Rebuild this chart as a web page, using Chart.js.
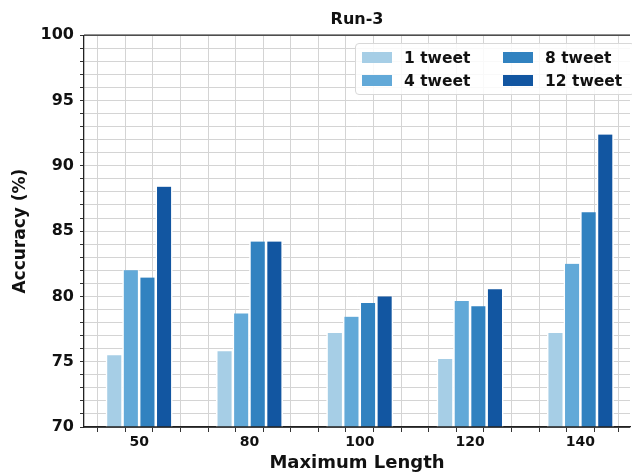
<!DOCTYPE html>
<html>
<head>
<meta charset="utf-8">
<script src="https://cdn.jsdelivr.net/npm/chart.js@4.4.1/dist/chart.umd.min.js"></script>
<style>
  html, body { margin: 0; padding: 0; background: #fff; }
  #wrap { position: relative; width: 632px; height: 474px; overflow: hidden; }
  #legend {
    position: absolute; left: 355px; top: 43px; width: 280px;
    box-sizing: border-box; padding: 2px 0 2px 6px;
    border: 1px solid #d8d8d8; border-radius: 4px;
    background: rgba(255, 255, 255, 0.85);
    display: grid; grid-template-columns: 141px auto; grid-template-rows: 23px 23px;
    grid-auto-flow: column;
    font-family: "DejaVu Sans", sans-serif; font-weight: bold; font-size: 15.5px; color: #111;
  }
  #legend .item { display: flex; align-items: center; }
  #legend .sw { width: 30px; height: 11px; margin-right: 12px; }
</style>
</head>
<body>
<div id="wrap">
  <canvas id="chart" width="632" height="474"></canvas>
  <div id="legend"></div>
</div>
<script>
// x categories (maximum length) and accuracy per tweet count
const lengths = ["50", "80", "100", "120", "140"];
const seriesNames = ["1 tweet", "4 tweet", "8 tweet", "12 tweet"];
const oneTweet = [75.5, 75.8, 77.2, 75.2, 77.2];
const fourTweet = [82.0, 78.7, 78.45, 79.65, 82.5];
const eightTweet = [81.45, 84.2, 79.5, 79.25, 86.45];
const twelveTweet = [88.4, 84.2, 80.0, 80.55, 92.4];
const seriesColors = ["#a6cee6", "#62a9d8", "#3182c0", "#1256a1"];
const yLabels = [70, 75, 80, 85, 90, 95, 100];

const font = "DejaVu Sans";
const allSeries = [oneTweet, fourTweet, eightTweet, twelveTweet];

const datasets = allSeries.map((vals, i) => ({
    label: seriesNames[i],
    data: vals.map((v, j) => ({ x: j, y: v })),
    backgroundColor: seriesColors[i],
    borderColor: "#fff",
    borderWidth: { left: 1.6, right: 1.6, top: 0, bottom: 0 }
}));

// legend inside the plot, two columns
const legend = document.getElementById("legend");
seriesNames.forEach((name, i) => {
    const item = document.createElement("div");
    item.className = "item";
    item.innerHTML = '<span class="sw" style="background:' + seriesColors[i] + '"></span>' + name;
    legend.appendChild(item);
});

// top spine + redraw bottom spine over the bars
const spines = {
    id: "spines",
    afterDatasetsDraw(chart) {
        const { ctx, chartArea: a } = chart;
        ctx.save();
        ctx.strokeStyle = "#222";
        ctx.lineWidth = 1.3;
        ctx.beginPath();
        ctx.moveTo(a.left, a.top);
        ctx.lineTo(a.right, a.top);
        ctx.moveTo(a.left, a.bottom);
        ctx.lineTo(a.right, a.bottom);
        ctx.stroke();
        ctx.restore();
    }
};

new Chart(document.getElementById("chart"), {
    type: "bar",
    data: { datasets: datasets },
    plugins: [spines],
    options: {
        responsive: false,
        animation: false,
        devicePixelRatio: 1,
        layout: { padding: 0 },
        datasets: {
            bar: { barThickness: 16.6, grouped: true }
        },
        plugins: {
            legend: { display: false },
            tooltip: { enabled: false },
            title: {
                display: true,
                text: "Run-3",
                fullSize: false,
                color: "#111",
                font: { family: font, size: 16, weight: "bold" },
                padding: { top: 10, bottom: 6 }
            }
        },
        scales: {
            x: {
                type: "linear",
                min: -0.5,
                max: 4.45,
                bounds: "data",
                offset: false,
                afterFit: s => { s.height = 47; },
                ticks: {
                    stepSize: 0.25,
                    maxTicksLimit: 25,
                    includeBounds: false,
                    autoSkip: false,
                    maxRotation: 0,
                    padding: 2,
                    color: "#111",
                    font: { family: font, size: 14, weight: "bold" },
                    callback: v => Number.isInteger(v) ? lengths[v] : ""
                },
                grid: { color: "#d4d4d4", tickColor: "#333", tickLength: 5, lineWidth: 1 },
                border: { color: "#222", width: 1.3 },
                title: {
                    display: true,
                    text: "Maximum Length",
                    color: "#111",
                    font: { family: font, size: 18, weight: "bold" },
                    padding: { top: 0, bottom: 0 }
                }
            },
            y: {
                min: 70,
                max: 100,
                afterFit: s => { s.width = 84; },
                ticks: {
                    stepSize: 1,
                    maxTicksLimit: 40,
                    autoSkip: false,
                    padding: 6,
                    color: "#111",
                    font: { family: font, size: 16, weight: "bold" },
                    callback: v => yLabels.includes(v) ? v : ""
                },
                grid: { color: "#d4d4d4", tickColor: "#333", tickLength: 4, lineWidth: 1 },
                border: { color: "#222", width: 1.3 },
                title: {
                    display: true,
                    text: "Accuracy (%)",
                    color: "#111",
                    font: { family: font, size: 17, weight: "bold" },
                    padding: { top: 10, bottom: 0 }
                }
            }
        }
    }
});
</script>
</body>
</html>
